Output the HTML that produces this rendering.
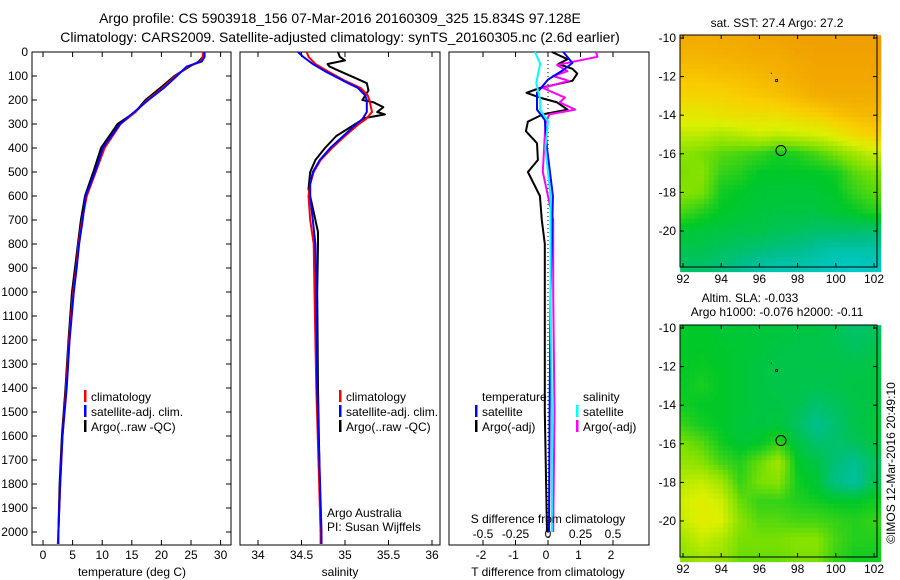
<!DOCTYPE html>
<html><head><meta charset="utf-8">
<style>
html,body{margin:0;padding:0;background:#fff;}
svg{display:block;font-family:"Liberation Sans",sans-serif;}
text{fill:#000;}
</style></head>
<body>
<svg id="c" width="900" height="580" viewBox="0 0 900 580">
<text x="340" y="23" font-size="14" text-anchor="middle">Argo profile: CS 5903918_156 07-Mar-2016 20160309_325 15.834S 97.128E</text>
<text x="340" y="42" font-size="14" text-anchor="middle">Climatology: CARS2009. Satellite-adjusted climatology: synTS_20160305.nc (2.6d earlier)</text>
<g id="g"></g>
</svg>
<script>
// ---------- data ----------
const depthTicks=[0,100,200,300,400,500,600,700,800,900,1000,1100,1200,1300,1400,1500,1600,1700,1800,1900,2000];
const tempTicks=[0,5,10,15,20,25,30];
const salTicks=[34,34.5,35,35.5,36];
const tdTicks=[-2,-1,0,1,2];
const sdTicks=[-0.5,-0.25,0,0.25,0.5];
const lonTicks=[92,94,96,98,100,102];
const latTicks=[-10,-12,-14,-16,-18,-20];

const tDepth=[0,20,40,60,100,150,200,250,300,400,500,600,700,800,900,1000,1200,1400,1600,1800,2000,2050];
const tClim=[27.0,27.0,26.6,24.5,22.4,20.2,17.6,15.6,13.1,10.4,8.9,7.4,6.6,6.0,5.6,5.1,4.4,3.9,3.3,2.9,2.6,2.5];
const tSat=[27.3,27.3,26.8,24.3,22.6,20.4,17.8,15.4,13.0,10.1,8.8,7.2,6.7,6.1,5.7,5.2,4.5,4.0,3.3,2.9,2.6,2.6];
const tArgo=[27.1,27.0,26.3,24.8,22.2,19.8,17.3,15.6,12.6,9.8,8.5,7.1,6.4,5.9,5.4,4.9,4.3,3.8,3.2,2.8,2.6];
const tArgoD=[0,20,40,60,100,150,200,250,300,400,500,600,700,800,900,1000,1200,1400,1600,1800,2000];

const sDepth=[0,20,50,80,120,150,180,200,250,280,300,350,400,450,500,550,600,700,800,1000,1400,2000,2050];
const sClim=[34.56,34.58,34.66,34.8,35.0,35.18,35.26,35.28,35.31,35.24,35.16,35.0,34.85,34.72,34.64,34.6,34.58,34.6,34.64,34.65,34.67,34.72,34.72];
const sSat=[34.46,34.52,34.63,34.77,34.98,35.15,35.23,35.25,35.25,35.2,35.13,34.98,34.83,34.71,34.63,34.6,34.6,34.63,34.66,34.67,34.68,34.73,34.73];
const sArgoD=[0,20,35,50,60,80,110,130,160,200,210,230,250,260,275,300,350,400,450,500,570,650,750,800,1000,1400,2000];
const sArgo=[34.92,34.94,35.0,34.8,34.82,34.94,35.13,35.25,35.27,35.2,35.33,35.44,35.37,35.46,35.23,35.12,34.9,34.77,34.66,34.6,34.58,34.63,34.69,34.69,34.68,34.69,34.72];

const dtSatD=[0,46,75,115,170,240,283,400,600,1000,1500,2000];
const dtSat=[0.47,0.75,0.47,0.0,-0.34,-0.34,-0.1,-0.03,0.15,0.08,0.05,0.03];
const dsSatD=[0,50,100,130,200,240,290,400,600,1000,1500,2000];
const dsSat=[-0.1,-0.06,-0.08,-0.09,-0.06,-0.06,0.0,-0.02,0.02,0.02,0.03,0.03];
const dsArgoD=[0,20,54,80,100,120,150,190,210,240,260,300,500,700,1000,1500,2000];
const dsArgo=[0.37,0.38,0.07,0.15,0.04,0.16,-0.04,0.13,0.09,0.21,0.01,-0.02,-0.04,0.04,0.04,0.05,0.04];
const dtArgoD=[0,30,50,70,90,120,150,170,190,210,240,260,290,330,380,450,500,600,700,800,1000,1500,2000];
const dtArgo=[0.12,0.6,0.32,0.75,0.9,0.75,-0.25,-0.66,-0.25,0.28,0.6,-0.16,-0.62,-0.68,-0.34,-0.31,-0.62,-0.25,-0.19,-0.1,-0.1,-0.1,-0.03];

const mapLats=[-10,-11,-12,-13,-14,-15,-16,-17,-18,-19,-20,-21,-22];
const sstGrid=[
[0.87,0.86,0.87,0.87,0.88,0.89,0.9,0.9,0.9,0.9,0.9],
[0.83,0.83,0.84,0.85,0.86,0.86,0.88,0.89,0.89,0.89,0.89],
[0.78,0.78,0.79,0.8,0.82,0.84,0.86,0.88,0.88,0.88,0.88],
[0.72,0.72,0.73,0.75,0.77,0.79,0.82,0.85,0.86,0.86,0.86],
[0.64,0.64,0.66,0.68,0.68,0.68,0.72,0.74,0.78,0.81,0.82],
[0.55,0.55,0.52,0.54,0.57,0.55,0.57,0.59,0.63,0.7,0.74],
[0.46,0.44,0.4,0.38,0.36,0.32,0.34,0.38,0.44,0.5,0.56],
[0.44,0.46,0.36,0.34,0.3,0.3,0.3,0.3,0.32,0.4,0.44],
[0.46,0.44,0.32,0.3,0.28,0.28,0.27,0.28,0.3,0.36,0.4],
[0.38,0.34,0.3,0.28,0.27,0.26,0.26,0.26,0.28,0.3,0.34],
[0.28,0.27,0.26,0.25,0.25,0.23,0.22,0.2,0.2,0.2,0.2],
[0.24,0.24,0.22,0.2,0.18,0.16,0.15,0.12,0.1,0.1,0.1],
[0.2,0.2,0.17,0.14,0.1,0.08,0.08,0.07,0.05,0.04,0.06]];
const slaGrid=[
[0.3,0.3,0.28,0.28,0.27,0.27,0.26,0.26,0.24,0.2,0.22],
[0.3,0.3,0.29,0.28,0.27,0.26,0.25,0.25,0.24,0.22,0.24],
[0.3,0.31,0.3,0.28,0.26,0.25,0.25,0.25,0.25,0.25,0.26],
[0.31,0.33,0.3,0.28,0.26,0.25,0.25,0.24,0.25,0.26,0.26],
[0.32,0.3,0.3,0.28,0.26,0.26,0.24,0.2,0.22,0.25,0.26],
[0.36,0.32,0.3,0.27,0.26,0.27,0.22,0.14,0.2,0.25,0.27],
[0.44,0.4,0.32,0.28,0.3,0.36,0.26,0.2,0.2,0.22,0.26],
[0.48,0.46,0.38,0.34,0.42,0.5,0.3,0.26,0.18,0.14,0.22],
[0.54,0.56,0.5,0.36,0.44,0.46,0.32,0.28,0.16,0.12,0.24],
[0.58,0.62,0.58,0.42,0.36,0.36,0.34,0.32,0.3,0.3,0.32],
[0.56,0.62,0.6,0.46,0.4,0.4,0.38,0.38,0.36,0.34,0.36],
[0.5,0.56,0.52,0.44,0.44,0.44,0.46,0.46,0.38,0.34,0.34],
[0.46,0.5,0.48,0.42,0.42,0.42,0.44,0.44,0.36,0.32,0.32]];

// ---------- helpers ----------
const NS='http://www.w3.org/2000/svg';
const G=document.getElementById('g');
function mk(tag,attrs,parent){const e=document.createElementNS(NS,tag);for(const k in attrs)e.setAttribute(k,attrs[k]);(parent||G).appendChild(e);return e;}
function txt(x,y,s,size,anchor,parent){const e=mk('text',{x:x,y:y,'font-size':size,'text-anchor':anchor||'middle'},parent);e.textContent=s;return e;}
const Y=d=>52+d*0.24;
const xT=t=>43+t*5.92;
const xS=s=>258+(s-34)*87;
const xDT=v=>548+v*32.5;
const xDS=v=>548+v*130;

function frame(x0,x1,name){const r=mk('rect',{x:x0,y:52,width:x1-x0,height:493,fill:'none',stroke:'#000','stroke-width':1});}
function line(ds,vs,fx,color,name){
  let p='';for(let i=0;i<ds.length;i++){p+=(i?'L':'M')+fx(vs[i]).toFixed(1)+','+Y(ds[i]).toFixed(1);}
  const e=mk('path',{d:p,fill:'none',stroke:color,'stroke-width':2,'stroke-linejoin':'round'});
  
  
}
function legend(x,y,color,label,name){
  const g=mk('g',{});
  
  
  if(color)mk('rect',{x:x,y:y-11,width:2.5,height:12,fill:color},g);
  txt(x+7,y,label,12,'start',g);
}

// ---------- panel 1 temperature ----------
frame(32,231,'temperature-panel');
depthTicks.forEach(d=>{mk('line',{x1:32,x2:37,y1:Y(d),y2:Y(d),stroke:'#000'});mk('line',{x1:226,x2:231,y1:Y(d),y2:Y(d),stroke:'#000'});
 const t=txt(28,Y(d)+4,String(d),12,'end');});
tempTicks.forEach(v=>{const x=xT(v);mk('line',{x1:x,x2:x,y1:52,y2:57,stroke:'#000'});mk('line',{x1:x,x2:x,y1:540,y2:545,stroke:'#000'});
 const t=txt(x,559,String(v),12);});
line(tArgoD,tArgo,xT,'#000','temp-argo-line');
line(tDepth,tClim,xT,'#f00','temp-climatology-line');
line(tDepth,tSat,xT,'#00f','temp-satellite-line');
legend(84,401,'#f00','climatology','legend-climatology');
legend(84,416,'#00f','satellite-adj. clim.','legend-satellite');
legend(84,431,'#000','Argo(..raw -QC)','legend-argo');
txt(132,576,'temperature (deg C)',12);

// ---------- panel 2 salinity ----------
frame(240,440,'salinity-panel');
salTicks.forEach(v=>{const x=xS(v);mk('line',{x1:x,x2:x,y1:52,y2:57,stroke:'#000'});mk('line',{x1:x,x2:x,y1:540,y2:545,stroke:'#000'});
 const t=txt(x,559,String(v),12);});
line(sArgoD,sArgo,xS,'#000','sal-argo-line');
line(sDepth,sClim,xS,'#f00','sal-climatology-line');
line(sDepth,sSat,xS,'#00f','sal-satellite-line');
legend(339,401,'#f00','climatology','legend-sal-climatology');
legend(339,416,'#00f','satellite-adj. clim.','legend-sal-satellite');
legend(339,431,'#000','Argo(..raw -QC)','legend-sal-argo');
txt(327,517,'Argo Australia',12,'start');
txt(327,531,'PI: Susan Wijffels',12,'start');
txt(340,576,'salinity',12);

// ---------- panel 3 differences ----------
frame(449,649,'difference-panel');
mk('line',{x1:548,x2:548,y1:52,y2:545,stroke:'#000','stroke-dasharray':'1,3'});
tdTicks.forEach(v=>{const x=xDT(v);mk('line',{x1:x,x2:x,y1:52,y2:57,stroke:'#000'});mk('line',{x1:x,x2:x,y1:540,y2:545,stroke:'#000'});
 const t=txt(x-2,559,String(v),12);});
sdTicks.forEach(v=>{const t=txt(xDS(v),538,String(v),12);});
line(dtArgoD,dtArgo,xDT,'#000','tdiff-argo-line');
line(dsArgoD,dsArgo,xDS,'#f0f','sdiff-argo-line');
line(dtSatD,dtSat,xDT,'#00f','tdiff-satellite-line');
line(dsSatD,dsSat,xDS,'#0ff','sdiff-satellite-line');
legend(475,401,null,'temperature','legend-temperature-header');
legend(576,401,null,'salinity','legend-salinity-header');
legend(475,416,'#00f','satellite','legend-t-satellite');
legend(475,431,'#000','Argo(-adj)','legend-t-argo');
legend(576,416,'#0ff','satellite','legend-s-satellite');
legend(576,431,'#f0f','Argo(-adj)','legend-s-argo');
txt(548,523,'S difference from climatology',12);
txt(548,576,'T difference from climatology',12);

// ---------- maps ----------
const cmapStops=[[0,[0,205,225]],[0.15,[0,190,140]],[0.3,[0,200,40]],[0.45,[130,225,0]],[0.6,[220,240,0]],[0.75,[250,205,0]],[0.9,[240,160,0]],[1,[225,120,0]]];
function cmap(v){v=Math.max(0,Math.min(1,v));for(let i=1;i<cmapStops.length;i++){if(v<=cmapStops[i][0]){const a=cmapStops[i-1],b=cmapStops[i];const f=(v-a[0])/(b[0]-a[0]);return 'rgb('+a[1].map((c,k)=>Math.round(c+(b[1][k]-c)*f)).join(',')+')';}}return 'rgb(225,120,0)';}
function sample(grid,lon,lat){const fx=Math.max(0,Math.min(9.999,lon-92));const fy=Math.max(0,Math.min(11.999,-10-lat));const i=Math.floor(fy),j=Math.floor(fx);const u=fx-j,w=fy-i;
 return grid[i][j]*(1-u)*(1-w)+grid[i][j+1]*u*(1-w)+grid[i+1][j]*(1-u)*w+grid[i+1][j+1]*u*w;}
function drawMap(top,grid,name,step){
  const x0=680,x1=877,y0=top,y1=top+232;
  const lx=lon=>683+(lon-92)*19.1, ly=lat=>top+3+(-10-lat)*19.3;
  const g=mk('g',{});
  for(let lat=-9.85;lat>-21.9;lat-=step){for(let lon=91.85;lon<102.15;lon+=step){
    mk('rect',{x:lx(lon).toFixed(2),y:ly(lat).toFixed(2),width:(step*19.1+0.6).toFixed(2),height:(step*19.3+0.6).toFixed(2),fill:cmap(sample(grid,lon+step/2,lat-step/2))},g);
  }}
  mk('rect',{x:x0,y:y0,width:x1-x0,height:y1-y0,fill:'none',stroke:'#000'});
  lonTicks.forEach(v=>{const x=lx(v);mk('line',{x1:x,x2:x,y1:y0,y2:y0+4,stroke:'#000'});mk('line',{x1:x,x2:x,y1:y1-4,y2:y1,stroke:'#000'});
    const t=txt(x,y1+16,String(v),12);});
  latTicks.forEach(v=>{const y=ly(v);mk('line',{x1:x0,x2:x0+4,y1:y,y2:y,stroke:'#000'});mk('line',{x1:x1-4,x2:x1,y1:y,y2:y,stroke:'#000'});
    const t=txt(676,y+4,String(v),12,'end');});
  const c=mk('circle',{cx:lx(97.13),cy:ly(-15.83),r:5,fill:'none',stroke:'#000','stroke-width':1});
  
  
  mk('rect',{x:lx(96.85),y:ly(-12.15),width:2,height:2,fill:'none',stroke:'#000','stroke-width':0.8});
  mk('rect',{x:lx(96.6),y:ly(-11.8),width:1,height:1,fill:'#000'});
}
drawMap(35,sstGrid,'sst-map',0.25);
drawMap(325,slaGrid,'sla-map',0.25);
txt(777,27,'sat. SST: 27.4  Argo: 27.2',12);
txt(750,302,'Altim. SLA: -0.033',12);
txt(777,316,'Argo h1000: -0.076 h2000: -0.11',12);
const cr=txt(0,0,'©IMOS 12-Mar-2016 20:49:10',12);
cr.setAttribute('transform','translate(895,463) rotate(-90)');


</script>
</body></html>
